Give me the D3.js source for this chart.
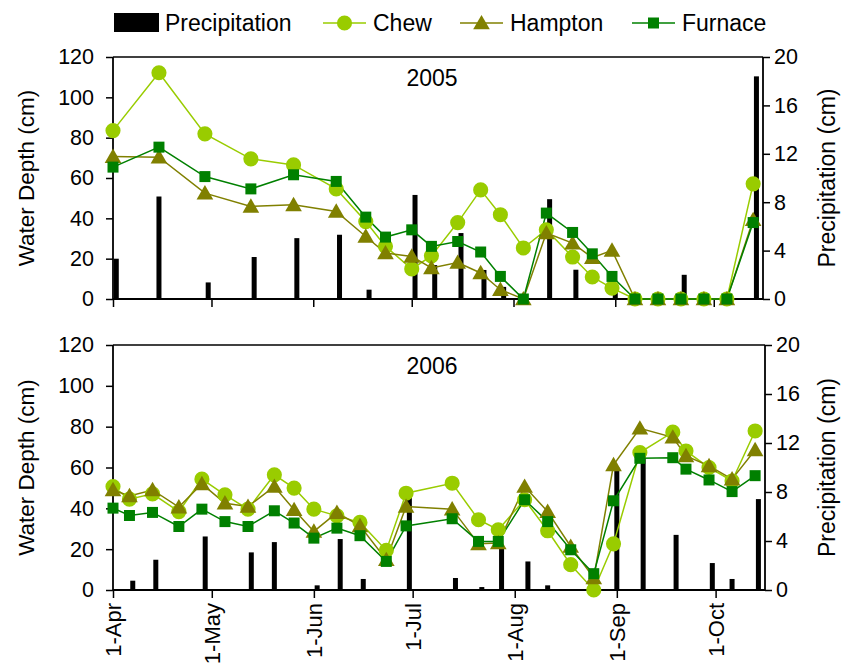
<!DOCTYPE html>
<html>
<head>
<meta charset="utf-8">
<script src="https://cdn.jsdelivr.net/npm/d3@7"></script>
<style>
  body { margin: 0; background: #fff; }
  text { font-family: "Liberation Sans", Arial, sans-serif; }
</style>
</head>
<body>
<svg id="chart" width="842" height="671"></svg>
<script>
// sampling dates + water depth (cm), 2005
var dates2005 = ["04-01","04-15","04-29","05-13","05-26","06-08","06-17","06-23","07-01","07-07","07-15","07-22",
  "07-28","08-04","08-11","08-19","08-25","08-31","09-07","09-14","09-21","09-28","10-05","10-13"]
var chew2005 = [83.5,112.2,81.9,69.5,66.5,54.6,38.4,26.1,14.9,21.4,37.9,54.1,41.8,25.3,34.3,20.8,10.9,5.4,0,0,0,0,0,57.1]
var hampton2005 = [70.6,70.3,52.5,45.9,46.7,43.4,31,22.8,21.1,15.4,18.1,12.9,4.6,0,32.7,27.7,20.5,24.1,0,0,0,0,0,39.3]
var furnace2005 = [65.4,75.3,60.7,54.6,61.6,58.3,40.6,30.7,34.3,26.1,28.5,23.3,11.2,0,42.6,33,22.4,11.2,0,0,0,0,0,37.9]
var precipDates2005 = ["04-02","04-15","04-30","05-14","05-27","06-09","06-18","07-02","07-08","07-16","07-23","07-29",
  "08-12","08-20","09-01","09-22","10-14"]
var precip2005 = [3.33,8.47,1.37,3.47,5.03,5.31,0.77,8.6,2.8,5.45,2.4,1.0,8.25,2.42,0.8,2.0,18.4]

// 2006
var dates2006 = ["04-01","04-06","04-13","04-21","04-28","05-05","05-12","05-20","05-26","06-01","06-08","06-15",
  "06-23","06-29","07-13","07-21","07-27","08-04","08-11","08-18","08-25","08-31","09-08","09-18","09-22","09-29","10-06","10-13"]
var chew2006 = [50.7,44.5,47.1,38.4,54.3,46.6,39.6,56.4,49.9,39.6,36.3,33.1,19.4,47.4,52.3,34.4,29.5,44.2,29,12.4,0,22.6,67.3,77.3,68.1,60,53.4,77.9]
var hampton2006 = [49,46.1,49,40.6,52,42.5,40.9,50.7,39.3,28.7,37.9,31.4,14.8,40.9,39.6,22.6,23,50.7,38.4,21.3,5.9,61.3,79.2,74.8,65.7,60.8,54.3,68.6]
var furnace2006 = [40.1,36.5,38,31.1,39.6,33.5,31.1,38.8,32.8,25.4,30.3,26.6,14,31.4,34.9,23.8,23.8,44.2,33.5,19.7,8,43.7,64.5,64.8,59.2,53.9,48.2,56]
var precipDates2006 = ["04-07","04-14","04-29","05-13","05-20","06-02","06-09","06-16","06-30","07-14","07-22","07-28",
  "08-05","08-11","09-01","09-09","09-19","09-30","10-06","10-14"]
var precip2006 = [0.76,2.47,4.37,3.07,3.91,0.38,4.16,0.9,7.9,0.98,0.24,3.6,2.33,0.38,10.0,11.0,4.5,2.2,0.9,7.42]

var monthTicks = ["04-01","05-01","06-01","07-01","08-01","09-01","10-01"]
var depthTicks = [0,20,40,60,80,100,120]
var precipTicks = [0,4,8,12,16,20]

var parse = d3.timeParse("%m-%d")
var fmt = d3.timeFormat("1-%b")

var svg = d3.select("#chart")
var series = [
    {name: "Chew", color: "#99cc00", shape: d3.symbolCircle, size: 180},
    {name: "Hampton", color: "#808000", shape: d3.symbolTriangle, size: 120},
    {name: "Furnace", color: "#008000", shape: d3.symbolSquare, size: 121}
]

function drawPanel(opt) {
    var x = d3.scaleTime()
        .domain([parse("04-01"), parse("10-16")])
        .range([113, opt.right])
    var y = d3.scaleLinear().domain([0, 120]).range([opt.bottom, opt.top])
    var yP = d3.scaleLinear().domain([0, 20]).range([opt.bottom, opt.top])

    var g = svg.append("g")

    // precipitation bars
    g.selectAll("rect.bar").data(opt.precipDates)
        .enter().append("rect")
        .attr("class", "bar")
        .attr("x", function(d){ return x(parse(d)) - 2.5 })
        .attr("y", function(d, i){ return yP(opt.precip[i]) })
        .attr("width", 5)
        .attr("height", function(d, i){ return opt.bottom - yP(opt.precip[i]) })
        .attr("fill", "#000")

    // frame top
    g.append("line")
        .attr("x1", 113).attr("x2", opt.right)
        .attr("y1", opt.top).attr("y2", opt.top)
        .attr("stroke", "#000").attr("stroke-width", 1.5)

    var left = g.append("g")
        .attr("transform", "translate(113,0)")
        .call(d3.axisLeft(y).tickValues(depthTicks).tickSize(7).tickPadding(12))
    var right = g.append("g")
        .attr("transform", "translate(" + opt.right + ",0)")
        .call(d3.axisRight(yP).tickValues(precipTicks).tickSize(7).tickPadding(4))
    var bottom = g.append("g")
        .attr("transform", "translate(0," + opt.bottom + ")")
        .call(d3.axisBottom(x).tickValues(monthTicks.map(parse)).tickSize(8)
            .tickFormat(opt.labels ? fmt : ""))

    ;[left, right, bottom].forEach(function(a){
        a.selectAll("path.domain").attr("stroke-width", 1.8)
        a.selectAll(".tick line").attr("stroke-width", 1.5)
        a.selectAll("text").attr("font-size", 21.5).attr("fill", "#000")
            .style("font-family", "Liberation Sans, Arial, sans-serif")
    })
    bottom.selectAll("path.domain").attr("d", "M113,0H" + opt.right)
    left.selectAll("path.domain").attr("d", "M0," + opt.bottom + "V" + opt.top)
    right.selectAll("path.domain").attr("d", "M0," + opt.bottom + "V" + opt.top)

    if (opt.labels) {
        bottom.selectAll(".tick text")
            .attr("font-size", 22)
            .attr("transform", "rotate(-90)")
            .attr("text-anchor", "end")
            .attr("x", -13)
            .attr("y", 0)
            .attr("dy", "0.36em")
    }

    // lines + markers
    var dates = opt.dates.map(parse)
    series.forEach(function(s){
        var vals = opt.values[s.name]
        var line = d3.line()
            .x(function(d, i){ return x(dates[i]) })
            .y(function(d){ return y(d) })
        g.append("path")
            .datum(vals)
            .attr("d", line)
            .attr("fill", "none")
            .attr("stroke", s.color)
            .attr("stroke-width", 1.5)
    })
    series.forEach(function(s){
        var vals = opt.values[s.name]
        g.selectAll("path.m" + s.name).data(vals)
            .enter().append("path")
            .attr("class", "m" + s.name)
            .attr("transform", function(d, i){
                var dy = s.shape === d3.symbolTriangle ? 1.5 : 0
                return "translate(" + x(dates[i]) + "," + (y(d) + dy) + ")"
            })
            .attr("d", d3.symbol().type(s.shape).size(s.size))
            .attr("fill", s.color)
    })

    g.append("text")
        .attr("x", 432).attr("y", opt.top + 29)
        .attr("text-anchor", "middle")
        .attr("font-size", 23)
        .text(opt.title)

    g.append("text")
        .attr("transform", "translate(34," + (opt.top + opt.bottom) / 2 + ") rotate(-90)")
        .attr("text-anchor", "middle")
        .attr("font-size", 22.5)
        .text("Water Depth (cm)")
    g.append("text")
        .attr("transform", "translate(835," + (opt.top + opt.bottom) / 2 + ") rotate(-90)")
        .attr("text-anchor", "middle")
        .attr("font-size", 23)
        .text("Precipitation (cm)")
}

drawPanel({top: 57, bottom: 299, right: 763, labels: false, title: "2005",
    dates: dates2005, precipDates: precipDates2005, precip: precip2005,
    values: {Chew: chew2005, Hampton: hampton2005, Furnace: furnace2005}})
drawPanel({top: 345, bottom: 590, right: 765, labels: true, title: "2006",
    dates: dates2006, precipDates: precipDates2006, precip: precip2006,
    values: {Chew: chew2006, Hampton: hampton2006, Furnace: furnace2006}})

// legend
var leg = svg.append("g")
function legText(x, t) {
    leg.append("text")
        .attr("x", x).attr("y", 31)
        .attr("font-size", 23)
        .text(t)
}
leg.append("rect").attr("x", 114).attr("y", 13).attr("width", 45).attr("height", 19).attr("fill", "#000")
legText(165, "Precipitation")
var legX = [323, 460, 632]
series.forEach(function(s, i){
    var lx = legX[i]
    leg.append("line").attr("x1", lx).attr("x2", lx + 43).attr("y1", 23).attr("y2", 23)
        .attr("stroke", s.color).attr("stroke-width", 1.5)
    leg.append("path")
        .attr("transform", "translate(" + (lx + 21.5) + "," + (s.shape === d3.symbolTriangle ? 24.5 : 23) + ")")
        .attr("d", d3.symbol().type(s.shape).size(s.size))
        .attr("fill", s.color)
    legText(lx + 50, s.name)
})
</script>
</body>
</html>
